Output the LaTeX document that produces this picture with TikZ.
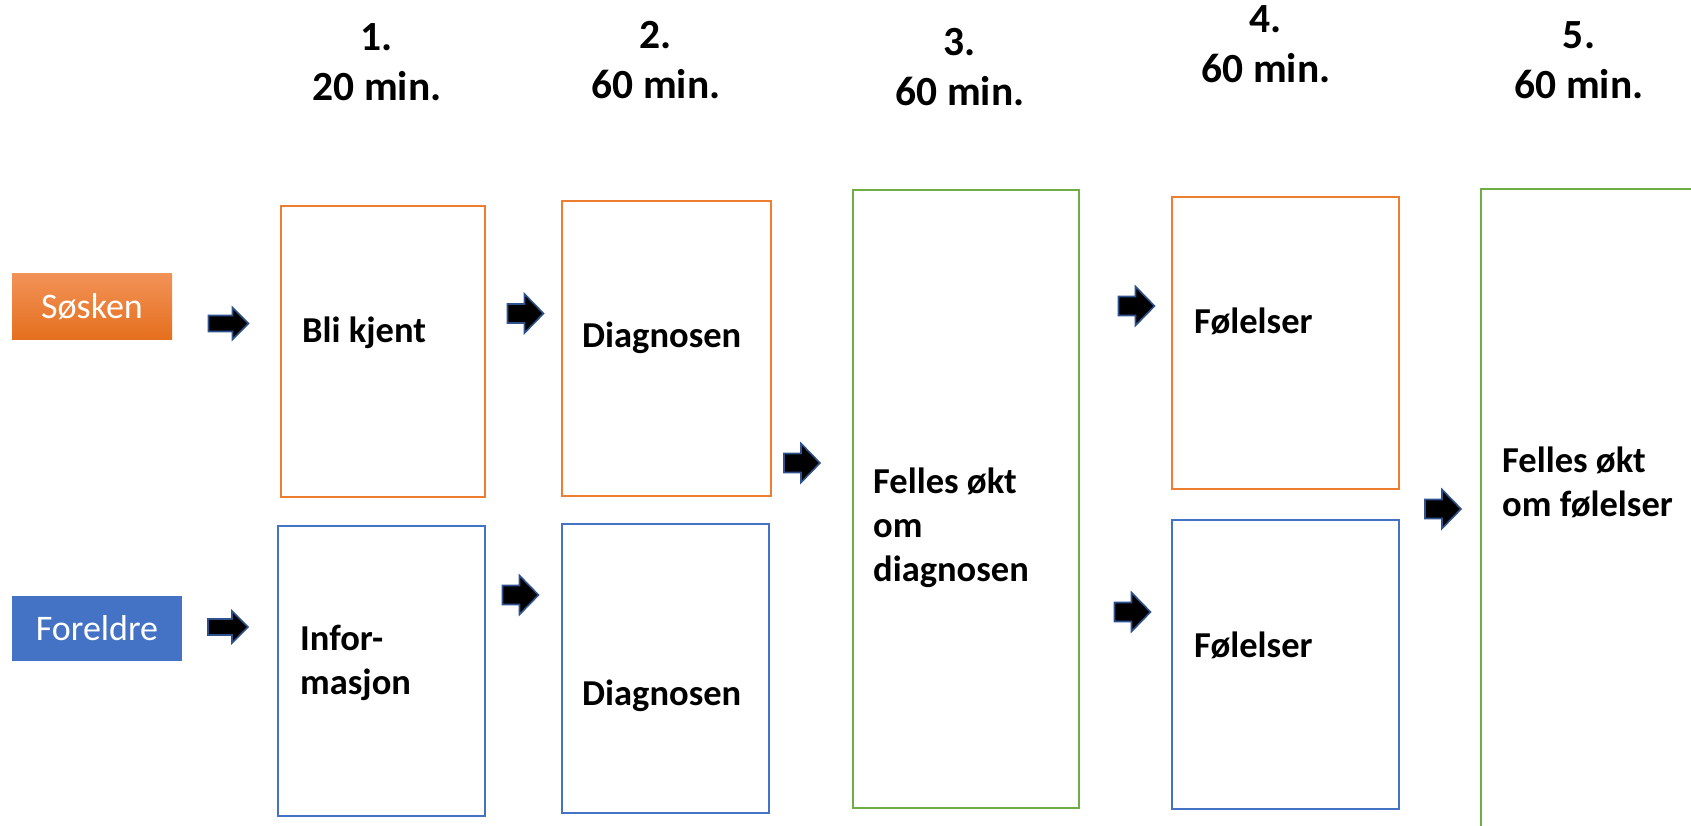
\documentclass[tikz,border=0pt]{standalone}
\usepackage{fontspec}
\setmainfont{Carlito}
\definecolor{orangeA}{HTML}{ED7D31}
\definecolor{blueA}{HTML}{4472C4}
\definecolor{greenA}{HTML}{70AD47}
\definecolor{arrowline}{HTML}{2F528F}
\definecolor{sosTop}{HTML}{F29257}
\definecolor{sosBot}{HTML}{E56F1E}
\newcommand{\hdr}[2]{\begin{tabular}[t]{@{}c@{}}#1\\#2\end{tabular}}
\newcommand{\lft}[1]{\begin{tabular}[t]{@{}l@{}}#1\end{tabular}}
% block arrow: centre x, centre y, length, head length, shaft half height, head half height
\newcommand{\barrow}[6]{\filldraw[blockarrow, shift={(#1,#2)}] (-#3/2,-#5) -- (#3/2-#4,-#5) -- (#3/2-#4,-#6) -- (#3/2,0) -- (#3/2-#4,#6) -- (#3/2-#4,#5) -- (-#3/2,#5) -- cycle;}
\begin{document}
\begin{tikzpicture}[x=1pt,y=-1pt,
  box/.style={draw, line width=2.5pt, inner sep=0pt},
  obox/.style={box, draw=orangeA},
  bbox/.style={box, draw=blueA},
  gbox/.style={box, draw=greenA},
  header/.style={font=\fontsize{41.5}{50}\selectfont\bfseries, anchor=base, inner sep=0pt},
  boxtext/.style={font=\fontsize{36.5}{44}\selectfont\bfseries, anchor=base west, inner sep=0pt},
  lab/.style={font=\fontsize{36}{44}\selectfont, text=white, inner sep=0pt},
  blockarrow/.style={fill=black, draw=arrowline, line width=1.6pt, line join=miter}]
\useasboundingbox (0,0) rectangle (1691,826);
% headers
\node[header] (h1) at (377,51) {\hdr{1.}{20 min.}};
\node[header] (h2) at (656,49) {\hdr{2.}{60 min.}};
\node[header] (h3) at (960,56) {\hdr{3.}{60 min.}};
\node[header] (h4) at (1266,33) {\hdr{4.}{60 min.}};
\node[header] (h5) at (1579,49) {\hdr{5.}{60 min.}};
% row labels
\node[lab, top color=sosTop, bottom color=sosBot, minimum width=160, minimum height=65] (sos) at (92,306.5) {Søsken};
\node[lab, fill=blueA, minimum width=170, minimum height=65] (fore) at (97,628.5) {Foreldre};
% boxes
\node[obox, minimum width=204, minimum height=291] (b1s) at (383,351.5) {};
\node[bbox, minimum width=207, minimum height=290] (b1f) at (381.5,671) {};
\node[obox, minimum width=209, minimum height=295] (b2s) at (666.5,348.5) {};
\node[bbox, minimum width=207, minimum height=289] (b2f) at (665.5,668.5) {};
\node[gbox, minimum width=226, minimum height=618] (b3) at (966,499) {};
\node[obox, minimum width=227, minimum height=292] (b4s) at (1285.5,343) {};
\node[bbox, minimum width=227, minimum height=289] (b4f) at (1285.5,664.5) {};
\node[gbox, minimum width=239, minimum height=638] (b5) at (1600.5,508) {};
% box texts
\node[boxtext] (t1s) at (302,342) {Bli kjent};
\node[boxtext] (t1f) at (300,650) {\lft{Infor-\\masjon}};
\node[boxtext] (t2s) at (582,347) {Diagnosen};
\node[boxtext] (t2f) at (582,705) {Diagnosen};
\node[boxtext] (t3) at (873,493) {\lft{Felles økt\\om\\diagnosen}};
\node[boxtext] (t4s) at (1194,333) {Følelser};
\node[boxtext] (t4f) at (1194,657) {Følelser};
\node[boxtext] (t5) at (1502,472) {\lft{Felles økt\\om følelser}};
% block arrows
\barrow{228.5}{323.5}{40}{16}{8}{16}
\barrow{228}{627}{40}{16}{8}{16}
\barrow{525.5}{313.5}{36}{19}{9.5}{19.5}
\barrow{520.5}{595}{36}{19}{9.5}{19.5}
\barrow{802}{463}{36}{19}{9.5}{19.5}
\barrow{1136.5}{306}{36}{19}{9.5}{19.5}
\barrow{1132.5}{612}{36}{19}{9.5}{19.5}
\barrow{1443}{509}{36}{19}{9.5}{19.5}
\end{tikzpicture}
\end{document}
